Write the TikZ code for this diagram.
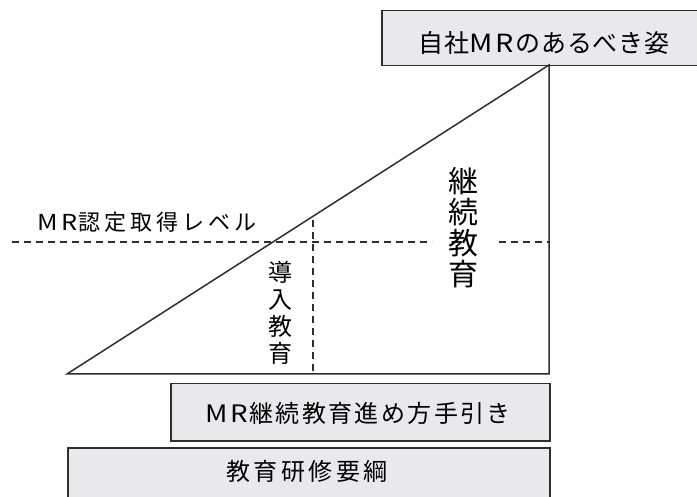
\documentclass[tikz,border=0pt]{standalone}
\usepackage{fontspec}
\newfontfamily\jpf{Noto Sans CJK JP}
\definecolor{boxfill}{HTML}{E9E9EB}
\definecolor{edge}{HTML}{2E2E2E}
\newcommand{\wideMR}{\scalebox{1.15}[1]{M}\kern0.12em\scalebox{1.15}[1]{R}\kern0.06em}
\tikzset{
  boxrect/.style={draw=edge, fill=boxfill, line width=1.5pt, rectangle, inner sep=0pt, anchor=north west},
  solidline/.style={draw=edge, line width=1.5pt, line join=miter},
  dashline/.style={draw=edge, line width=1.3pt, dash pattern=on 7pt off 5pt},
  lbl/.style={inner sep=0pt, text=black, align=center},
}
\begin{document}
\begin{tikzpicture}[x=1pt,y=-1pt]
\useasboundingbox (0,0) rectangle (697,497);
% boxes
\node[boxrect, minimum width=330pt, minimum height=55pt] (top) at (381,10) {};
\node[boxrect, minimum width=379pt, minimum height=57pt] (guide) at (170,383) {};
\node[boxrect, minimum width=482pt, minimum height=70pt] (base) at (67,447) {};
% triangle
\coordinate (A) at (67,374);
\coordinate (B) at (549,374);
\coordinate (C) at (549,65);
\draw[solidline] (A) -- (B) -- (C) -- cycle;
% dashed lines
\coordinate (hl) at (12,242);
\coordinate (hm) at (432,242);
\coordinate (hn) at (499,242);
\coordinate (hr) at (549,242);
\coordinate (vt) at (313,220);
\coordinate (vb) at (313,374);
\draw[dashline] (hl) -- (hm);
\draw[dashline] (hn) -- (hr);
\draw[dashline] (vt) -- (vb);
% texts
\node[lbl, font={\jpf\fontsize{25}{25}\selectfont\addfontfeature{LetterSpace=3}}] (ttop) at (544,43) {自社\wideMR のあるべき姿};
\node[lbl, font={\jpf\fontsize{22}{22}\selectfont\addfontfeature{LetterSpace=18}}] (tlevel) at (147,222) {\wideMR 認定取得レベル};
\node[lbl, font={\jpf\fontsize{24}{27}\selectfont}] (tintro) at (280,313) {導\\入\\教\\育};
\node[lbl, font={\jpf\fontsize{30}{31}\selectfont}] (tcont) at (463,228) {継\\続\\教\\育};
\node[lbl, font={\jpf\fontsize{24}{24}\selectfont\addfontfeature{LetterSpace=10}}] (tguide) at (358,413) {\wideMR 継続教育進め方手引き};
\node[lbl, font={\jpf\fontsize{24}{24}\selectfont\addfontfeature{LetterSpace=14}}] (tbase) at (307,471) {教育研修要綱};
\end{tikzpicture}
\end{document}
